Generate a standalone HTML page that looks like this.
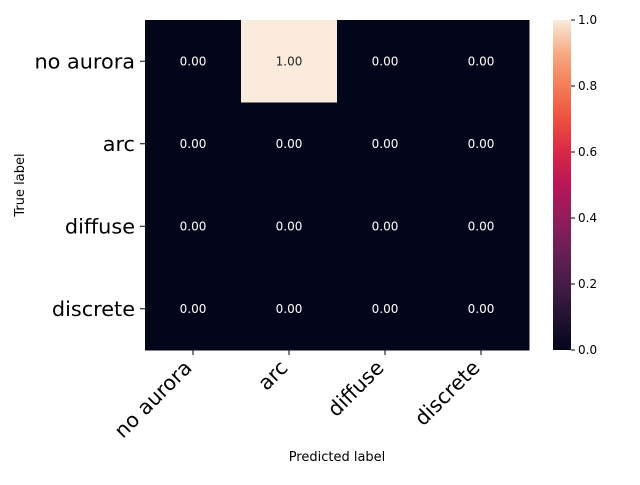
<!DOCTYPE html>
<html><head><meta charset="utf-8"><style>
body{margin:0;background:#fff;}
svg{font-family:"DejaVu Sans","Liberation Sans",sans-serif;}
</style></head><body>
<svg width="640" height="480">
<defs>
<linearGradient id="rocket" x1="0" y1="1" x2="0" y2="0">
<stop offset="0" stop-color="#03051a"/><stop offset="0.1" stop-color="#221331"/>
<stop offset="0.2" stop-color="#451c47"/><stop offset="0.3" stop-color="#691f55"/>
<stop offset="0.4" stop-color="#921c5b"/><stop offset="0.5" stop-color="#b91657"/>
<stop offset="0.6" stop-color="#d92847"/><stop offset="0.7" stop-color="#ed503e"/>
<stop offset="0.8" stop-color="#f47d57"/><stop offset="0.9" stop-color="#f6aa82"/>
<stop offset="1" stop-color="#faebdd"/>
</linearGradient>
</defs>
<g id="cells"></g>
<g id="axes"></g>
<rect x="553" y="20" width="18" height="330" fill="url(#rocket)"/>
<g id="cbticks"></g>
<text x="337" y="461" font-size="13" text-anchor="middle">Predicted label</text>
<text transform="translate(24,185) rotate(-90)" font-size="13" text-anchor="middle">True label</text>
</svg>
<script>
const categories=["no aurora","arc","diffuse","discrete"];
const values=[[0,1,0,0],[0,0,0,0],[0,0,0,0],[0,0,0,0]];
const cbTicks=[0,0.2,0.4,0.6,0.8,1.0];
const X0=145,X1=529,Y0=20,Y1=350,n=categories.length;
const cw=(X1-X0)/n,ch=(Y1-Y0)/n;
const stops=[[3,5,26],[34,19,49],[69,28,71],[105,31,85],[146,28,91],[185,22,87],[217,40,71],[237,80,62],[244,125,87],[246,170,130],[250,235,221]];
function color(v){const t=Math.max(0,Math.min(1,v))*10,i=Math.min(9,Math.floor(t)),f=t-i;const a=stops[i],b=stops[i+1];return `rgb(${a.map((c,k)=>Math.round(c+(b[k]-c)*f)).join(',')})`;}
const NS="http://www.w3.org/2000/svg";
function mk(tag,attrs,parent){const e=document.createElementNS(NS,tag);for(const k in attrs)e.setAttribute(k,attrs[k]);parent.appendChild(e);return e;}
const cells=document.getElementById('cells'),axes=document.getElementById('axes'),cb=document.getElementById('cbticks');
values.forEach((row,r)=>row.forEach((v,c)=>{
 const rc=mk('rect',{x:X0+c*cw,y:Y0+r*ch,width:cw+0.5,height:ch+0.5,fill:color(v)},cells);
 
 
 const t=mk('text',{x:X0+(c+0.5)*cw,y:Y0+(r+0.5)*ch+4,'font-size':12,'text-anchor':'middle',fill:v>0.5?'#262626':'#fff'},cells);
 t.textContent=v.toFixed(2);
 
 
}));
categories.forEach((name,i)=>{
 const x=X0+(i+0.5)*cw,y=Y0+(i+0.5)*ch;
 mk('line',{x1:x,y1:Y1,x2:x,y2:Y1+5,stroke:'#000'},axes);
 const tx=mk('text',{transform:`translate(${x},${Y1+19}) rotate(-45)`,'font-size':20.5,'text-anchor':'end'},axes);
 tx.textContent=name;
 
 
 mk('line',{x1:X0-5,y1:y,x2:X0,y2:y,stroke:'#000'},axes);
 const ty=mk('text',{x:X0-10,y:y+7,'font-size':20.8,'text-anchor':'end'},axes);
 ty.textContent=name;
 
 
});
cbTicks.forEach(v=>{
 const y=Y1-v*(Y1-Y0);
 mk('line',{x1:571,y1:y,x2:575,y2:y,stroke:'#000'},cb);
 const t=mk('text',{x:578,y:y+4,'font-size':12},cb);
 t.textContent=v.toFixed(1);
 
 
});
</script>
</body></html>
